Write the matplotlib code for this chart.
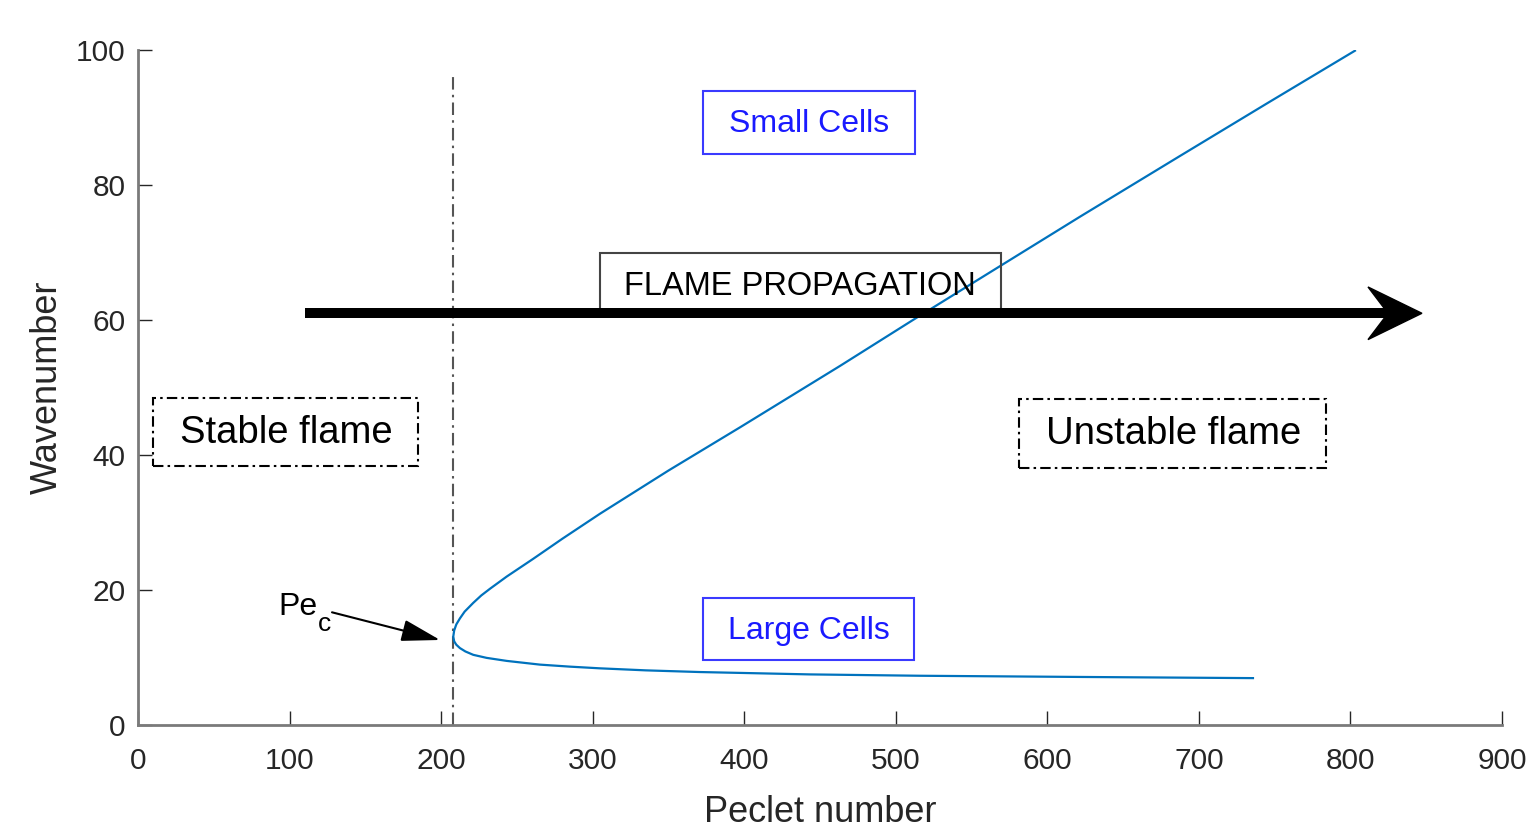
import matplotlib.pyplot as plt
from matplotlib.patches import Rectangle, Polygon

plt.rcParams['font.family'] = ['Liberation Sans', 'DejaVu Sans']

# neutral stability curve
# upper branch (small cells), from the nose upwards
pe_upper = [208.0, 208.6, 210.0, 212.4, 215.5, 221.2, 226.5, 232.3, 243.3, 260.6,
            280.0, 304.8, 350.0, 397.2, 463.2, 511.3, 566.0, 621.5, 687.5, 745.0, 803.0]
k_upper = [13.1, 14.0, 14.9, 15.8, 16.8, 18.1, 19.2, 20.2, 22.0, 24.6,
           27.6, 31.3, 37.7, 44.1, 53.2, 60.0, 67.6, 75.3, 84.3, 92.1, 99.9]
# lower branch (large cells), from the nose to the right
pe_lower = [208.0, 208.6, 210.0, 212.4, 216.0, 221.2, 230.0, 243.3, 265.2, 285.0,
            304.8, 335.0, 370.8, 443.4, 516.0, 623.5, 735.7]
k_lower = [13.1, 12.4, 11.9, 11.4, 10.9, 10.4, 9.95, 9.5, 8.95, 8.65,
           8.4, 8.1, 7.85, 7.5, 7.3, 7.12, 6.95]

pe_crit = 208.0
xticks = [0, 100, 200, 300, 400, 500, 600, 700, 800, 900]
yticks = [0, 20, 40, 60, 80, 100]

fig = plt.figure(figsize=(15.27, 8.27), dpi=100)
ax = fig.add_axes([0.0904, 0.1233, 0.8932, 0.8162])

# curve
pe_all = pe_upper[::-1] + pe_lower[1:]
k_all = k_upper[::-1] + k_lower[1:]
ax.plot(pe_all, k_all, color='#0072BD', lw=1.6, zorder=3, solid_joinstyle='round')

# critical Peclet line
ax.plot([pe_crit, pe_crit], [0, 96.6], color='#555555', lw=1.5,
        linestyle=(0, (6, 2.5, 1.2, 2.5)), zorder=2)

# flame propagation arrow
ax.plot([110, 826], [61, 61], color='black', lw=7.2, solid_capstyle='butt', zorder=4)
head = Polygon([(847.2, 61), (811.6, 64.9), (824.8, 61), (811.6, 57.1)],
               closed=True, facecolor='black', edgecolor='black', lw=1, zorder=4)
ax.add_patch(head)

# text boxes
def box(x0, x1, y0, y1, ec, ls='-'):
    r = Rectangle((x0, y0), x1 - x0, y1 - y0, fill=False, edgecolor=ec, lw=1.5,
                  linestyle=ls, zorder=3, clip_on=False)
    ax.add_patch(r)

box(372.8, 512.7, 84.6, 93.9, '#3a3aff')
ax.text(442.7, 89.0, 'Small Cells', color='#1a1aff', fontsize=23, ha='center', va='center')

box(372.8, 512.0, 9.6, 18.8, '#3a3aff')
ax.text(442.4, 13.9, 'Large Cells', color='#1a1aff', fontsize=23, ha='center', va='center')

box(304.8, 569.4, 61.0, 69.9, '#444444')
ax.text(436.8, 65.0, 'FLAME PROPAGATION', color='black', fontsize=23.5, ha='center', va='center')

dd = (0, (5, 2, 1.2, 2))
box(9.9, 184.7, 38.4, 48.4, 'black', dd)
ax.text(97.6, 43.2, 'Stable flame', color='black', fontsize=27.5, ha='center', va='center')

box(581.3, 783.8, 38.1, 48.3, 'black', dd)
ax.text(683.6, 43.1, 'Unstable flame', color='black', fontsize=27.5, ha='center', va='center')

# Pe_c annotation
ax.text(92.4, 16.3, 'Pe', fontsize=23, color='black', ha='left', va='baseline')
ax.text(118.5, 14.0, 'c', fontsize=19, color='black', ha='left', va='baseline')
ax.annotate('', xy=(199.3, 12.6), xytext=(128, 16.7),
            arrowprops=dict(arrowstyle='-|>,head_length=1.6,head_width=0.45',
                            color='black', lw=1.5, shrinkA=0, shrinkB=0, mutation_scale=15))

# axes styling (MATLAB look)
ax.set_xlim(0, 900)
ax.set_ylim(0, 100)
ax.set_xticks(xticks)
ax.set_yticks(yticks)
for s in ['top', 'right']:
    ax.spines[s].set_visible(False)
for s in ['left', 'bottom']:
    ax.spines[s].set_color('#7a7a7a')
    ax.spines[s].set_linewidth(2)
ax.tick_params(axis='both', direction='in', length=10, width=1, color='#262626',
               labelsize=21.5, labelcolor='#262626')
ax.tick_params(axis='x', pad=16)
ax.tick_params(axis='y', pad=9)
ax.set_xlabel('Peclet number', fontsize=26, color='#262626', labelpad=14)
ax.set_ylabel('Wavenumber', fontsize=26, color='#262626', labelpad=8)

plt.savefig('out.png', dpi=100)
